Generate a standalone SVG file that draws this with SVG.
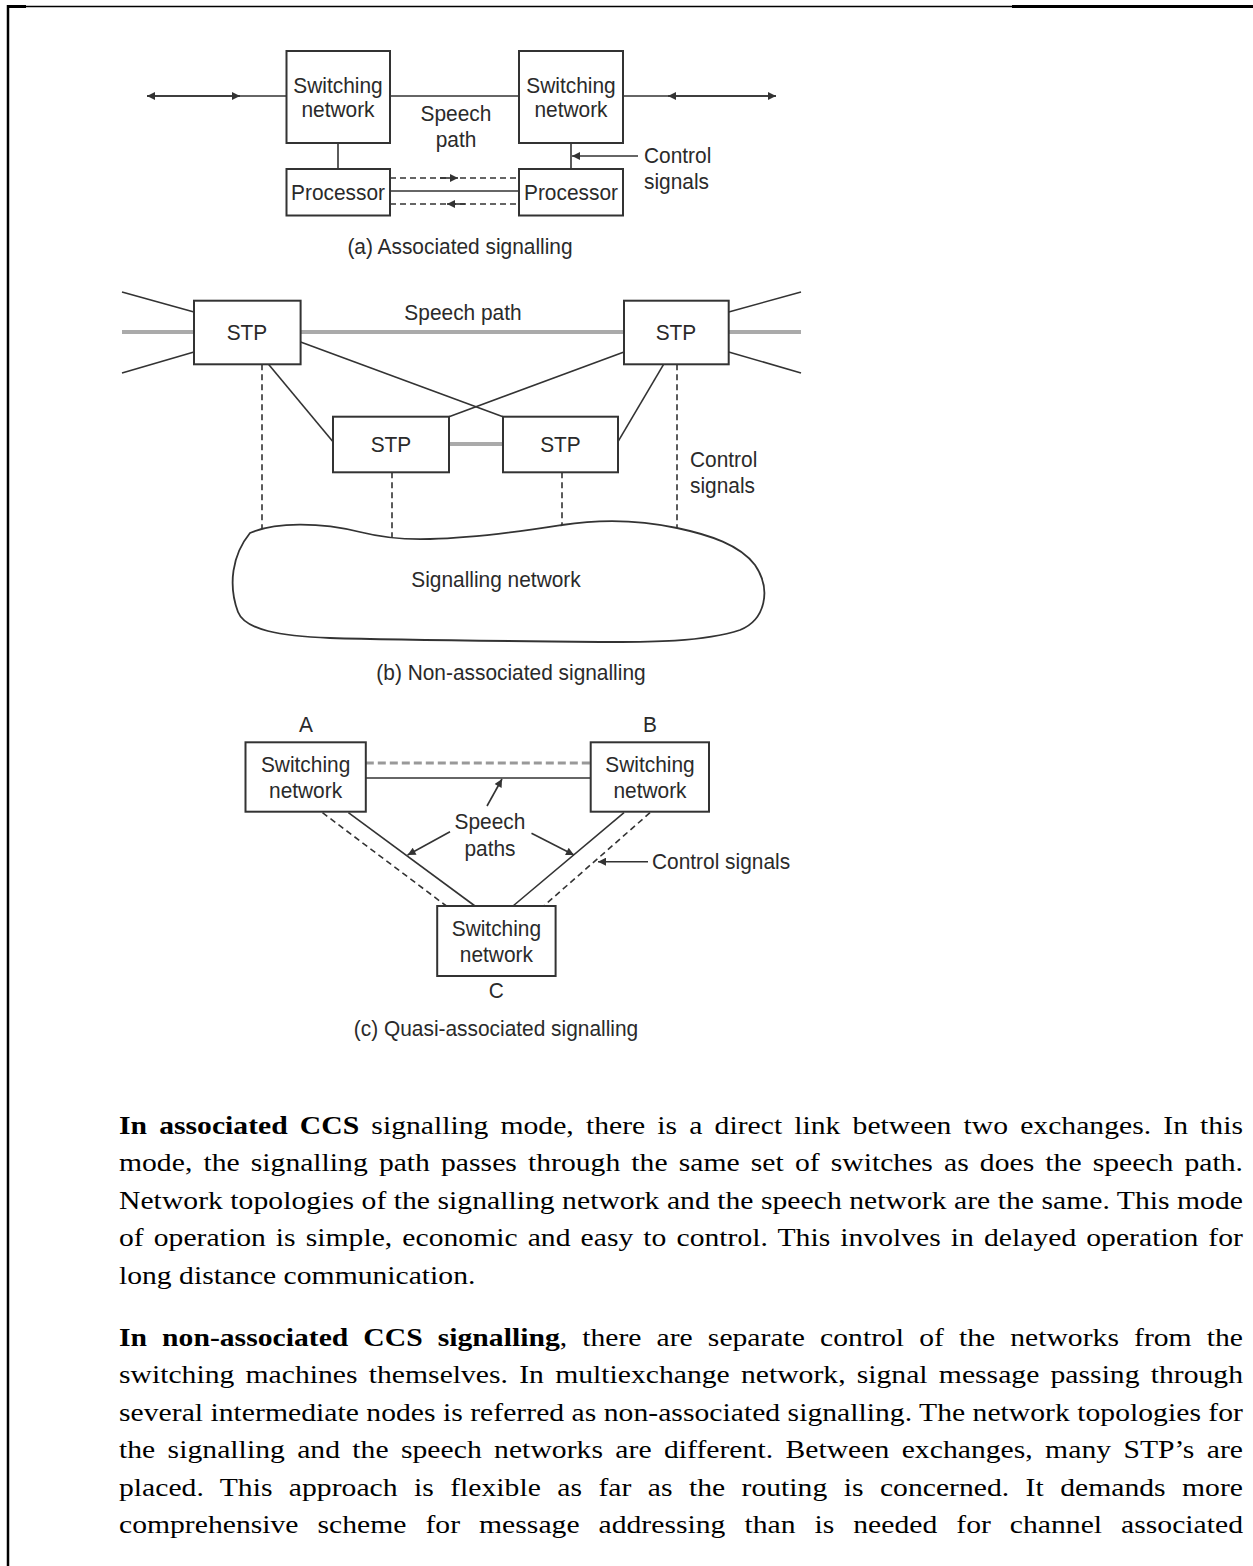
<svg xmlns="http://www.w3.org/2000/svg" width="1253" height="1566" viewBox="0 0 1253 1566">
<style>
.box{fill:#fff;stroke:#333;stroke-width:2}
.lbl{font-family:"Liberation Sans",Arial,sans-serif;font-size:22px;fill:#2a2a2a;text-anchor:middle}
.lbs{font-family:"Liberation Sans",Arial,sans-serif;font-size:22px;fill:#2a2a2a}
.ln{stroke:#333;stroke-width:1.6;fill:none}
.dash{stroke:#333;stroke-width:1.6;stroke-dasharray:6 4;fill:none}
.grey{stroke:#aaa;stroke-width:4;fill:none}
.greydash{stroke:#999;stroke-width:3;stroke-dasharray:8 4;fill:none}
.arr{marker-end:url(#ah)}
.para{font-family:"Liberation Serif","Times New Roman",serif;font-size:24.5px;fill:#000}
.b{font-weight:bold}
.frame{stroke:#000;fill:none}
</style>
<defs>
<marker id="ah" viewBox="0 0 10 10" refX="10" refY="5" markerWidth="11" markerHeight="8" orient="auto" markerUnits="userSpaceOnUse">
<path d="M0,0 L10,5 L0,10 z" fill="#333"/>
</marker>
</defs>
<rect width="1253" height="1566" fill="#fff"/>

<g id="frame">
<line class="frame" x1="7" y1="6.5" x2="1012" y2="6.5" stroke-width="1.5"/>
<line class="frame" x1="7" y1="6.5" x2="26" y2="6.5" stroke-width="3"/>
<line class="frame" x1="1012" y1="6.5" x2="1253" y2="6.5" stroke-width="3"/>
<line class="frame" x1="8" y1="5" x2="8" y2="1566" stroke-width="2.5"/>
</g>

<g id="connectors">
<!-- (a) -->
<line class="ln" x1="390" y1="96" x2="519" y2="96"/>
<path class="ln arr" d="M286.5,96 L147,96"/>
<path class="ln arr" d="M147,96 L240,96"/>
<path class="ln arr" d="M623,96 L776,96"/>
<path class="ln arr" d="M776,96 L668,96"/>
<line class="ln" x1="338" y1="143" x2="338" y2="169"/>
<line class="ln" x1="571" y1="143" x2="571" y2="169"/>
<path class="ln arr" d="M638,156 L572,156"/>
<line class="dash" x1="390" y1="178" x2="519" y2="178"/>
<path class="ln arr" d="M440,178 L458,178"/>
<line class="ln" x1="390" y1="191" x2="519" y2="191"/>
<line class="dash" x1="390" y1="204" x2="519" y2="204"/>
<path class="ln arr" d="M465,204 L447,204"/>
<!-- (b) -->
<line class="grey" x1="122" y1="332" x2="194" y2="332"/>
<line class="grey" x1="300.6" y1="332" x2="624" y2="332"/>
<line class="grey" x1="728.7" y1="332" x2="801" y2="332"/>
<line class="grey" x1="449" y1="444" x2="503" y2="444"/>
<line class="ln" x1="122" y1="292" x2="194" y2="312"/>
<line class="ln" x1="122" y1="373" x2="194" y2="352"/>
<line class="ln" x1="728.7" y1="312" x2="801" y2="292"/>
<line class="ln" x1="728.7" y1="352" x2="801" y2="373"/>
<line class="ln" x1="300.6" y1="342" x2="503" y2="416.7"/>
<line class="ln" x1="624" y1="352" x2="449" y2="416.7"/>
<line class="ln" x1="268.5" y1="364.3" x2="333" y2="441.7"/>
<line class="ln" x1="663.6" y1="364.3" x2="618" y2="441.7"/>
<line class="dash" x1="262" y1="364.3" x2="262" y2="528"/>
<line class="dash" x1="392" y1="472.3" x2="392" y2="538"/>
<line class="dash" x1="562" y1="472.3" x2="562" y2="526"/>
<line class="dash" x1="677" y1="364.3" x2="677" y2="528"/>
<!-- (c) -->
<line class="greydash" x1="365.8" y1="763" x2="590.7" y2="763"/>
<line class="ln" x1="365.8" y1="778" x2="590.7" y2="778"/>
<line class="ln" x1="348.4" y1="812.7" x2="475" y2="906"/>
<line class="dash" x1="322.5" y1="812.7" x2="446.4" y2="906"/>
<line class="ln" x1="624" y1="812.7" x2="513" y2="906"/>
<line class="dash" x1="650" y1="812.7" x2="543.7" y2="906"/>
<path class="ln arr" d="M487,806 L502,779"/>
<path class="ln arr" d="M450,831.7 L407.6,855"/>
<path class="ln arr" d="M531.5,833.3 L574,855"/>
<path class="ln arr" d="M648,861.7 L598,861.7"/>
</g>

<g id="nodes">
<g id="a-switch-left"><rect class="box" x="286.5" y="51" width="103.5" height="92"/></g>
<g id="a-switch-right"><rect class="box" x="519" y="51" width="104" height="92"/></g>
<g id="a-proc-left"><rect class="box" x="286.5" y="169" width="103.5" height="46.5"/></g>
<g id="a-proc-right"><rect class="box" x="519" y="169" width="104" height="46.5"/></g>
<g id="b-stp-tl"><rect class="box" x="194" y="300.7" width="106.6" height="63.6"/></g>
<g id="b-stp-tr"><rect class="box" x="624" y="300.7" width="104.7" height="63.6"/></g>
<g id="b-stp-ml"><rect class="box" x="333" y="416.7" width="116" height="55.6"/></g>
<g id="b-stp-mr"><rect class="box" x="503" y="416.7" width="115" height="55.6"/></g>
<g id="b-cloud"><path d="M250,533 C275,522 320,522 360,532 C380,537 400,540 430,539 C480,538 530,530 562,525 C600,519 640,520 677,528 C710,535 740,545 755,565 C772,590 765,620 740,630 C700,643 640,642 600,642 C500,641 400,640 330,638 C280,636 245,630 238,612 C228,585 232,555 250,533 Z" fill="#fff" stroke="#333" stroke-width="1.8"/></g>
<g id="c-switch-a"><rect class="box" x="245.5" y="742.3" width="120.3" height="69.4"/></g>
<g id="c-switch-b"><rect class="box" x="590.7" y="742.3" width="118.3" height="69.4"/></g>
<g id="c-switch-c"><rect class="box" x="437.2" y="906" width="118.4" height="70"/></g>
</g>

<g id="labels" transform="scale(0.95,1)">
<text class="lbl" x="355.79" y="93">Switching</text><text class="lbl" x="355.79" y="117">network</text>
<text class="lbl" x="601.05" y="93">Switching</text><text class="lbl" x="601.05" y="117">network</text>
<text class="lbl" x="355.79" y="200">Processor</text>
<text class="lbl" x="601.05" y="200">Processor</text>
<text class="lbl" x="480" y="121">Speech</text>
<text class="lbl" x="480" y="147">path</text>
<text class="lbs" x="677.89" y="163">Control</text>
<text class="lbs" x="677.89" y="189">signals</text>
<text class="lbl" x="484.21" y="254">(a) Associated signalling</text>

<text class="lbl" x="260" y="340">STP</text>
<text class="lbl" x="711.58" y="340">STP</text>
<text class="lbl" x="411.58" y="452">STP</text>
<text class="lbl" x="590" y="452">STP</text>
<text class="lbl" x="522.11" y="587">Signalling network</text>
<text class="lbl" x="487.37" y="320">Speech path</text>
<text class="lbs" x="726.32" y="467">Control</text>
<text class="lbs" x="726.32" y="493">signals</text>
<text class="lbl" x="537.89" y="680">(b) Non-associated signalling</text>

<text class="lbl" x="321.68" y="772">Switching</text><text class="lbl" x="321.68" y="798">network</text>
<text class="lbl" x="684.21" y="772">Switching</text><text class="lbl" x="684.21" y="798">network</text>
<text class="lbl" x="522.53" y="936">Switching</text><text class="lbl" x="522.53" y="962">network</text>
<text class="lbl" x="322.11" y="732">A</text>
<text class="lbl" x="684.21" y="732">B</text>
<text class="lbl" x="522.53" y="998">C</text>
<text class="lbl" x="515.79" y="829">Speech</text>
<text class="lbl" x="515.79" y="856">paths</text>
<text class="lbs" x="686.32" y="869">Control signals</text>
<text class="lbl" x="522.11" y="1036">(c) Quasi-associated signalling</text>
</g>

<g id="text-body" transform="scale(1.21,1)">
<text class="para" x="98.35" y="1134" textLength="928.9" lengthAdjust="spacing" word-spacing="0.16em"><tspan class="b">In associated CCS</tspan> signalling mode, there is a direct link between two exchanges. In this</text>
<text class="para" x="98.35" y="1171.5" textLength="928.9" lengthAdjust="spacing" word-spacing="0.125em">mode, the signalling path passes through the same set of switches as does the speech path.</text>
<text class="para" x="98.35" y="1209" textLength="928.9" lengthAdjust="spacing">Network topologies of the signalling network and the speech network are the same. This mode</text>
<text class="para" x="98.35" y="1246.5" textLength="928.9" lengthAdjust="spacing" word-spacing="0.088em">of operation is simple, economic and easy to control. This involves in delayed operation for</text>
<text class="para" x="98.35" y="1284">long distance communication.</text>
<text class="para" x="98.35" y="1346" textLength="928.9" lengthAdjust="spacing" word-spacing="0.258em"><tspan class="b">In non-associated CCS signalling</tspan>, there are separate control of the networks from the</text>
<text class="para" x="98.35" y="1383.5" textLength="928.9" lengthAdjust="spacing" word-spacing="0.128em">switching machines themselves. In multiexchange network, signal message passing through</text>
<text class="para" x="98.35" y="1421" textLength="928.9" lengthAdjust="spacing">several intermediate nodes is referred as non-associated signalling. The network topologies for</text>
<text class="para" x="98.35" y="1458.5" textLength="928.9" lengthAdjust="spacing" word-spacing="0.164em">the signalling and the speech networks are different. Between exchanges, many STP’s are</text>
<text class="para" x="98.35" y="1496" textLength="928.9" lengthAdjust="spacing" word-spacing="0.303em">placed. This approach is flexible as far as the routing is concerned. It demands more</text>
<text class="para" x="98.35" y="1533.5" textLength="928.9" lengthAdjust="spacing" word-spacing="0.391em">comprehensive scheme for message addressing than is needed for channel associated</text>
</g>
</svg>
